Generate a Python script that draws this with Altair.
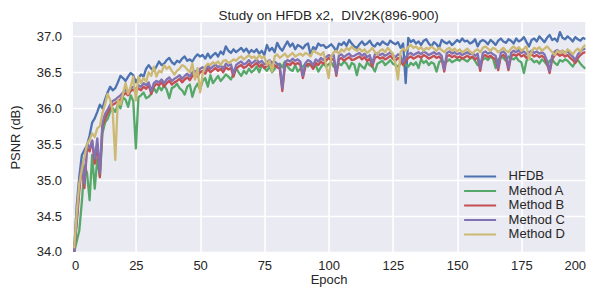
import altair as alt
import pandas as pd

epochs = list(range(1, 201))
series_names = ["HFDB", "Method A", "Method B", "Method C", "Method D"]
colors = ["#4C72B0", "#55A868", "#C44E52", "#8172B2", "#CCB974"]
x_ticks = [0, 25, 50, 75, 100, 125, 150, 175, 200]
y_ticks = [34.0, 34.5, 35.0, 35.5, 36.0, 36.5, 37.0]

hfdb = [
    34.02, 34.65, 35.05, 35.35, 35.42, 35.48, 35.62, 35.80, 35.86, 35.95,
    36.05, 36.00, 36.12, 36.22, 36.30, 36.25, 36.28, 36.36, 36.45, 36.42,
    36.38, 36.44, 36.49, 36.46, 36.36, 36.42, 36.47, 36.44, 36.55, 36.60,
    36.55, 36.52, 36.58, 36.65, 36.60, 36.62, 36.67, 36.70, 36.64, 36.61,
    36.66, 36.64, 36.69, 36.72, 36.66, 36.68, 36.65, 36.71, 36.75, 36.72,
    36.74, 36.69, 36.76, 36.70, 36.74, 36.77, 36.72, 36.79, 36.75, 36.86,
    36.80, 36.77, 36.82, 36.78, 36.81, 36.84, 36.79, 36.83, 36.77, 36.81,
    36.78, 36.82, 36.76, 36.80, 36.74, 36.88, 36.80, 36.84, 36.78, 36.91,
    36.84, 36.80, 36.87, 36.93, 36.86, 36.90, 36.82, 36.88, 36.86, 36.83,
    36.88, 36.90, 36.74, 36.85, 36.82, 36.90, 36.87, 36.88, 36.84, 36.86,
    36.89, 36.85, 36.79, 36.90, 36.88, 36.92, 36.87, 36.95, 36.90, 36.86,
    36.84, 36.89, 36.93, 36.88, 36.90, 36.94, 36.88, 36.86, 36.91, 36.88,
    36.93, 36.90, 36.88, 36.94, 36.91, 36.89, 36.92, 36.84, 36.90, 36.35,
    36.98, 36.92, 36.95, 36.90, 36.93, 36.88, 36.94, 36.96, 36.90, 36.86,
    36.92, 36.89, 36.84, 36.95, 36.92, 36.90, 36.93, 36.88, 36.91, 36.95,
    36.92, 36.97, 36.93, 36.94, 36.90, 36.92, 36.96, 36.86, 36.93, 36.95,
    36.93, 36.89, 36.95, 36.92, 36.88, 36.94, 36.97, 36.93, 36.91, 36.96,
    36.94, 36.90, 36.97, 36.93, 36.95, 36.99, 36.92, 36.86, 36.95, 36.97,
    36.93, 37.00, 36.96, 36.92, 36.98, 37.02, 36.95, 36.97, 36.93, 37.06,
    36.98, 36.96, 37.00, 36.97, 36.93, 36.99, 36.96, 36.94, 36.98, 36.96,
]

method_a = [
    34.00, 34.15, 34.30, 34.70, 35.20, 35.10, 34.72, 35.35, 34.88, 35.30,
    35.05, 35.65, 35.80, 35.85, 35.95, 36.00, 35.95, 36.05, 36.00, 36.15,
    36.12, 36.02, 36.18, 36.10, 35.44, 36.15, 36.18, 36.22, 36.14, 36.16,
    36.20, 36.28, 36.22, 36.30, 36.25, 36.32, 36.26, 36.14, 36.28, 36.30,
    36.34, 36.28, 36.25, 36.19, 36.30, 36.33, 36.16, 36.28, 36.34, 36.26,
    36.38, 36.42, 36.30, 36.46, 36.35, 36.40, 36.45, 36.38, 36.42, 36.47,
    36.44, 36.40, 36.48, 36.56, 36.50, 36.45, 36.52, 36.48, 36.55, 36.50,
    36.53, 36.58, 36.50, 36.60, 36.56, 36.52, 36.58, 36.50, 36.55, 36.60,
    36.62, 36.57, 36.65, 36.58, 36.54, 36.52, 36.60, 36.51, 36.55, 36.58,
    36.62, 36.58, 36.63, 36.56, 36.60, 36.51, 36.57, 36.62, 36.58, 36.61,
    36.64, 36.58, 36.55, 36.62, 36.60, 36.65, 36.62, 36.55, 36.63, 36.61,
    36.46, 36.62, 36.58, 36.55, 36.64, 36.60, 36.58, 36.51, 36.62, 36.64,
    36.66, 36.60, 36.63, 36.67, 36.62, 36.60, 36.58, 36.62, 36.66, 36.60,
    36.58, 36.63, 36.60, 36.64, 36.56, 36.68, 36.63, 36.66, 36.60, 36.64,
    36.62, 36.51, 36.64, 36.67, 36.63, 36.65, 36.68, 36.64, 36.66, 36.68,
    36.66, 36.70, 36.67, 36.65, 36.69, 36.71, 36.66, 36.60, 36.64, 36.68,
    36.70, 36.67, 36.72, 36.69, 36.56, 36.68, 36.71, 36.70, 36.66, 36.72,
    36.70, 36.68, 36.71, 36.66, 36.64, 36.49, 36.66, 36.70, 36.68, 36.64,
    36.66, 36.62, 36.68, 36.65, 36.60, 36.66, 36.68, 36.63, 36.60, 36.67,
    36.65, 36.68, 36.66, 36.62, 36.58, 36.64, 36.67, 36.62, 36.58, 36.55,
]

method_b = [
    34.00, 34.40, 34.85, 35.20, 34.89, 35.45, 35.40, 35.55, 35.23, 35.50,
    35.04, 35.75, 35.85, 35.93, 36.00, 36.05, 36.07, 36.10, 36.12, 36.18,
    36.21, 36.18, 36.24, 36.26, 36.22, 36.28, 36.25, 36.30, 36.27, 36.32,
    36.20, 36.30, 36.34, 36.32, 36.36, 36.30, 36.35, 36.38, 36.33, 36.36,
    36.38, 36.41, 36.36, 36.40, 36.43, 36.39, 36.45, 36.48, 36.44, 36.50,
    36.52, 36.48, 36.55, 36.50, 36.53, 36.56, 36.52, 36.55, 36.50, 36.57,
    36.54, 36.56, 36.44, 36.55, 36.58, 36.60, 36.56, 36.58, 36.62, 36.57,
    36.60, 36.63, 36.58, 36.61, 36.56, 36.59, 36.62, 36.58, 36.60, 36.57,
    36.55, 36.24, 36.58, 36.62, 36.60, 36.64, 36.61, 36.63, 36.60, 36.42,
    36.58, 36.62, 36.60, 36.55, 36.63, 36.60, 36.65, 36.62, 36.66, 36.70,
    36.67, 36.69, 36.45, 36.68, 36.70, 36.66, 36.69, 36.71, 36.67, 36.68,
    36.70, 36.72, 36.68, 36.71, 36.66, 36.69, 36.58, 36.70, 36.72, 36.69,
    36.71, 36.68, 36.70, 36.73, 36.69, 36.66, 36.70, 36.68, 36.60, 36.66,
    36.70, 36.72, 36.69, 36.71, 36.73, 36.70, 36.74, 36.72, 36.69, 36.71,
    36.73, 36.70, 36.72, 36.68, 36.51, 36.72, 36.74, 36.71, 36.73, 36.70,
    36.72, 36.69, 36.71, 36.73, 36.70, 36.72, 36.68, 36.71, 36.52, 36.72,
    36.74, 36.71, 36.73, 36.70, 36.68, 36.53, 36.72, 36.74, 36.70, 36.53,
    36.72, 36.75, 36.73, 36.76, 36.72, 36.74, 36.70, 36.73, 36.75, 36.72,
    36.74, 36.71, 36.73, 36.70, 36.62, 36.49, 36.68, 36.74, 36.76, 36.73,
    36.75, 36.72, 36.74, 36.70, 36.67, 36.63, 36.70, 36.74, 36.77, 36.78,
]

method_c = [
    34.00, 34.45, 34.95, 35.25, 34.95, 35.50, 35.45, 35.55, 35.30, 35.58,
    35.10, 35.80, 35.92, 35.98, 36.05, 36.10, 36.12, 36.15, 36.18, 36.22,
    36.26, 36.22, 36.28, 36.30, 36.26, 36.32, 36.30, 36.35, 36.32, 36.36,
    36.24, 36.35, 36.38, 36.36, 36.40, 36.35, 36.40, 36.43, 36.38, 36.41,
    36.43, 36.46, 36.41, 36.45, 36.48, 36.44, 36.50, 36.52, 36.48, 36.55,
    36.57, 36.53, 36.60, 36.55, 36.58, 36.61, 36.57, 36.60, 36.55, 36.62,
    36.59, 36.61, 36.48, 36.60, 36.63, 36.65, 36.61, 36.63, 36.67, 36.62,
    36.65, 36.68, 36.63, 36.66, 36.61, 36.64, 36.67, 36.63, 36.65, 36.62,
    36.60, 36.28, 36.63, 36.67, 36.65, 36.69, 36.66, 36.68, 36.65, 36.45,
    36.63, 36.67, 36.65, 36.60, 36.68, 36.65, 36.70, 36.67, 36.71, 36.74,
    36.72, 36.74, 36.48, 36.73, 36.75, 36.71, 36.74, 36.76, 36.72, 36.73,
    36.75, 36.77, 36.73, 36.76, 36.71, 36.74, 36.62, 36.75, 36.77, 36.74,
    36.76, 36.73, 36.75, 36.78, 36.74, 36.71, 36.75, 36.73, 36.64, 36.71,
    36.75, 36.77, 36.74, 36.76, 36.78, 36.75, 36.79, 36.77, 36.74, 36.76,
    36.78, 36.75, 36.77, 36.73, 36.54, 36.77, 36.79, 36.76, 36.78, 36.75,
    36.77, 36.74, 36.76, 36.78, 36.75, 36.77, 36.73, 36.76, 36.56, 36.77,
    36.79, 36.76, 36.78, 36.75, 36.73, 36.56, 36.77, 36.79, 36.75, 36.56,
    36.77, 36.80, 36.78, 36.81, 36.77, 36.79, 36.75, 36.78, 36.80, 36.77,
    36.79, 36.76, 36.78, 36.75, 36.66, 36.52, 36.73, 36.79, 36.81, 36.78,
    36.80, 36.77, 36.79, 36.75, 36.72, 36.67, 36.75, 36.79, 36.82, 36.83,
]

method_d = [
    34.05, 34.55, 34.95, 35.15, 35.32, 35.50, 35.56, 35.65, 35.60, 35.72,
    35.75, 35.93, 36.05, 36.20, 36.12, 35.95, 35.28, 36.12, 36.05, 36.20,
    36.35, 36.20, 36.30, 36.44, 36.11, 36.44, 36.35, 36.42, 36.37, 36.50,
    36.45, 36.58, 36.44, 36.52, 36.50, 36.60, 36.55, 36.58, 36.52, 36.47,
    36.52, 36.55, 36.60, 36.58, 36.54, 36.50, 36.62, 36.40, 36.56, 36.22,
    36.48, 36.58, 36.62, 36.60, 36.64, 36.62, 36.65, 36.60, 36.66, 36.67,
    36.63, 36.65, 36.68, 36.66, 36.70, 36.72, 36.68, 36.71, 36.74, 36.70,
    36.72, 36.68, 36.74, 36.70, 36.72, 36.60, 36.66, 36.51, 36.72, 36.75,
    36.70, 36.73, 36.76, 36.71, 36.74, 36.77, 36.72, 36.74, 36.76, 36.73,
    36.77, 36.75, 36.72, 36.80, 36.78, 36.76, 36.74, 36.78, 36.60, 36.42,
    36.72, 36.78, 36.80, 36.76, 36.82, 36.79, 36.84, 36.81, 36.86, 36.82,
    36.80, 36.83, 36.79, 36.82, 36.77, 36.80, 36.84, 36.78, 36.75, 36.80,
    36.82, 36.78, 36.84, 36.80, 36.76, 36.62, 36.40, 36.78, 36.83, 36.80,
    36.85, 36.88, 36.84, 36.86, 36.82, 36.85, 36.80, 36.84, 36.82, 36.86,
    36.83, 36.80, 36.84, 36.81, 36.78, 36.82, 36.84, 36.80, 36.83, 36.79,
    36.82, 36.78, 36.80, 36.83, 36.79, 36.76, 36.80, 36.82, 36.78, 36.84,
    36.86, 36.83, 36.80, 36.84, 36.82, 36.78, 36.81, 36.84, 36.80, 36.78,
    36.83, 36.86, 36.82, 36.85, 36.80, 36.83, 36.86, 36.68, 36.79, 36.84,
    36.82, 36.85, 36.80, 36.83, 36.86, 36.82, 36.78, 36.74, 36.80, 36.77,
    36.80, 36.76, 36.82, 36.79, 36.75, 36.80, 36.83, 36.79, 36.85, 36.88,
]

all_series = [hfdb, method_a, method_b, method_c, method_d]
rows = []
for idx, (name, vals) in enumerate(zip(series_names, all_series)):
    assert len(vals) == len(epochs), name
    for e, v in zip(epochs, vals):
        rows.append({"Epoch": e, "PSNR": v, "Method": name, "k": idx})
df = pd.DataFrame(rows)

FONT = "Liberation Sans"
TXT = "#262626"

chart = (
    alt.Chart(df)
    .mark_line(strokeWidth=2.3, strokeJoin="round", clip=True)
    .encode(
        x=alt.X(
            "Epoch:Q",
            scale=alt.Scale(domain=[0, 200], nice=False, zero=False),
            axis=alt.Axis(values=x_ticks, title="Epoch", labelPadding=8, titlePadding=1),
        ),
        y=alt.Y(
            "PSNR:Q",
            scale=alt.Scale(domain=[34.0, 37.2], nice=False, zero=False),
            axis=alt.Axis(values=y_ticks, format=".1f", title="PSNR (dB)",
                          labelPadding=10, titlePadding=14),
        ),
        color=alt.Color(
            "Method:N",
            scale=alt.Scale(domain=series_names, range=colors),
            legend=alt.Legend(
                title=None,
                orient="none",
                legendX=402,
                legendY=148,
                symbolType="M-3.2,0H3.2",
                symbolSize=100,
                symbolStrokeWidth=2,
                labelOffset=22,
                labelFont=FONT,
                labelFontSize=13,
                labelColor=TXT,
                rowPadding=0.5,
                padding=0,
            ),
        ),
        order=alt.Order("k:Q"),
    )
    .properties(
        width=514,
        height=230,
        title=alt.TitleParams(
            "Study on HFDB x2,\u00a0 DIV2K(896-900)",
            font=FONT, fontSize=13.5, fontWeight="normal", color=TXT, offset=0,
        ),
        autosize="none",
        padding={"left": 63.6, "top": 14, "right": 6, "bottom": 35},
        background="white",
    )
    .configure_view(fill="#EAEAF2", stroke=None)
    .configure_axis(
        grid=True, gridColor="white", gridWidth=1.6, domain=False, ticks=False,
        labelFont=FONT, labelFontSize=13, labelColor=TXT,
        titleFont=FONT, titleFontSize=13, titleFontWeight="normal", titleColor=TXT,
    )
)

chart.save("out.html", embed_options={"renderer": "svg", "actions": False})
